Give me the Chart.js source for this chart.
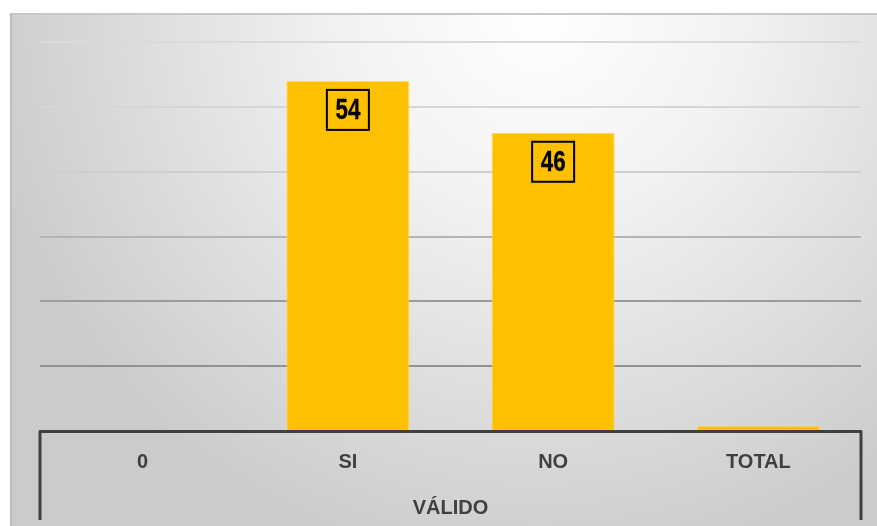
<!DOCTYPE html>
<html>
<head>
<meta charset="utf-8">
<script src="https://cdn.jsdelivr.net/npm/chart.js@4.4.1/dist/chart.umd.min.js"></script>
<style>
  html, body { margin: 0; padding: 0; background: #ffffff; }
  #wrap { width: 877px; height: 526px; position: relative; }
</style>
</head>
<body>
<div id="wrap"><canvas id="chart"></canvas></div>
<script>
// Data
const categories = ['0', 'SI', 'NO', 'TOTAL'];
const values = [0, 54, 46, 0.8];
const valueLabels = ['', '54', '46', ''];
const groupLabel = 'VÁLIDO';
const yMax = 60;
const yStep = 10;

// Gridline colours get darker toward the bottom
const gridColors = ['#8e8e8e', '#919191', '#9c9c9c', '#b4b4b4', '#cfcfcf', '#d6d6d6', '#dadada'];

// Is a narrow font installed?
function hasFont(name) {
    const c = document.createElement('canvas').getContext('2d');
    c.font = 'bold 30px monospace';
    const a = c.measureText('TOTAL 54 VÁLIDO').width;
    c.font = 'bold 30px "' + name + '", monospace';
    const b = c.measureText('TOTAL 54 VÁLIDO').width;
    return a !== b;
}
const narrow = hasFont('Liberation Sans Narrow');
const axisFont = narrow
    ? { family: '"Liberation Sans Narrow", sans-serif', size: 23, weight: 'bold' }
    : { family: '"Liberation Sans", Arial, sans-serif', size: 20, weight: 'bold' };

// Panel background + frame
const backgroundPlugin = {
    id: 'panelBackground',
    beforeDraw(chart) {
        const ctx = chart.ctx;
        const w = chart.width, h = chart.height;
        ctx.save();
        ctx.fillStyle = '#ffffff';
        ctx.fillRect(0, 0, w, h);
        const grad = ctx.createRadialGradient(540, 10, 0, 540, 10, 570);
        grad.addColorStop(0, '#ffffff');
        grad.addColorStop(0.35, '#f2f2f2');
        grad.addColorStop(1, '#cbcbcb');
        ctx.fillStyle = grad;
        ctx.fillRect(10, 13, w - 10, h - 13);
        ctx.fillStyle = '#c8c8c8';
        ctx.fillRect(10, 13, w - 10, 2);
        ctx.fillStyle = '#bdbdbd';
        ctx.fillRect(10, 13, 2, h - 13);
        ctx.restore();
    }
};

// Boxed value labels + group separators
const labelsPlugin = {
    id: 'boxedLabels',
    afterDatasetsDraw(chart) {
        const ctx = chart.ctx;
        const meta = chart.getDatasetMeta(0);
        ctx.save();
        ctx.textAlign = 'center';
        ctx.textBaseline = 'middle';
        meta.data.forEach((bar, i) => {
            const txt = valueLabels[i];
            if (!txt) return;
            const cx = bar.x;
            const cy = bar.y + 29;
            ctx.strokeStyle = '#000000';
            ctx.lineWidth = 2;
            ctx.strokeRect(cx - 21, cy - 20, 42, 40);
            ctx.fillStyle = '#000000';
            ctx.save();
            ctx.translate(cx, cy + 1);
            if (narrow) {
                ctx.font = 'bold 29px "Liberation Sans Narrow", sans-serif';
            } else {
                ctx.font = 'bold 29px "Liberation Sans", Arial, sans-serif';
                ctx.scale(0.77, 1);
            }
            ctx.fillText(txt, 0, 0);
            ctx.lineWidth = 0.35;
            ctx.strokeText(txt, 0, 0);
            ctx.restore();
        });
        ctx.restore();
    },
    afterDraw(chart) {
        const ctx = chart.ctx;
        const area = chart.chartArea;
        const xs = chart.scales.x;
        ctx.save();
        ctx.strokeStyle = '#404040';
        ctx.lineWidth = 3;
        ctx.beginPath();
        ctx.moveTo(area.left, area.bottom);
        ctx.lineTo(area.left, xs.bottom - 6);
        ctx.moveTo(area.right, area.bottom);
        ctx.lineTo(area.right, xs.bottom - 6);
        ctx.stroke();
        ctx.restore();
    }
};

new Chart(document.getElementById('chart'), {
    type: 'bar',
    data: {
        labels: categories,
        datasets: [{
            data: values,
            backgroundColor: '#ffc000',
            borderColor: '#ffd966',
            borderWidth: 1,
            categoryPercentage: 1.0,
            barPercentage: 0.6
        }]
    },
    options: {
        responsive: true,
        maintainAspectRatio: false,
        animation: false,
        layout: {
            padding: { top: 42, left: 40, right: 16, bottom: 0 }
        },
        plugins: {
            legend: { display: false },
            tooltip: { enabled: false }
        },
        scales: {
            x: {
                afterFit(scale) { scale.height = 95; },
                grid: { display: false, drawTicks: false },
                border: { display: true, color: '#404040', width: 3 },
                ticks: {
                    padding: 19,
                    color: '#404040',
                    font: axisFont
                },
                title: {
                    display: true,
                    text: groupLabel,
                    color: '#404040',
                    padding: { top: 0, bottom: 6 },
                    font: axisFont
                }
            },
            y: {
                min: 0,
                max: yMax,
                afterFit(scale) { scale.width = 0; },
                ticks: { display: false, stepSize: yStep },
                border: { display: false },
                grid: {
                    drawTicks: false,
                    lineWidth: 2,
                    color: ctx => gridColors[ctx.index] || '#d9d9d9'
                }
            }
        }
    },
    plugins: [backgroundPlugin, labelsPlugin]
});
</script>
</body>
</html>
